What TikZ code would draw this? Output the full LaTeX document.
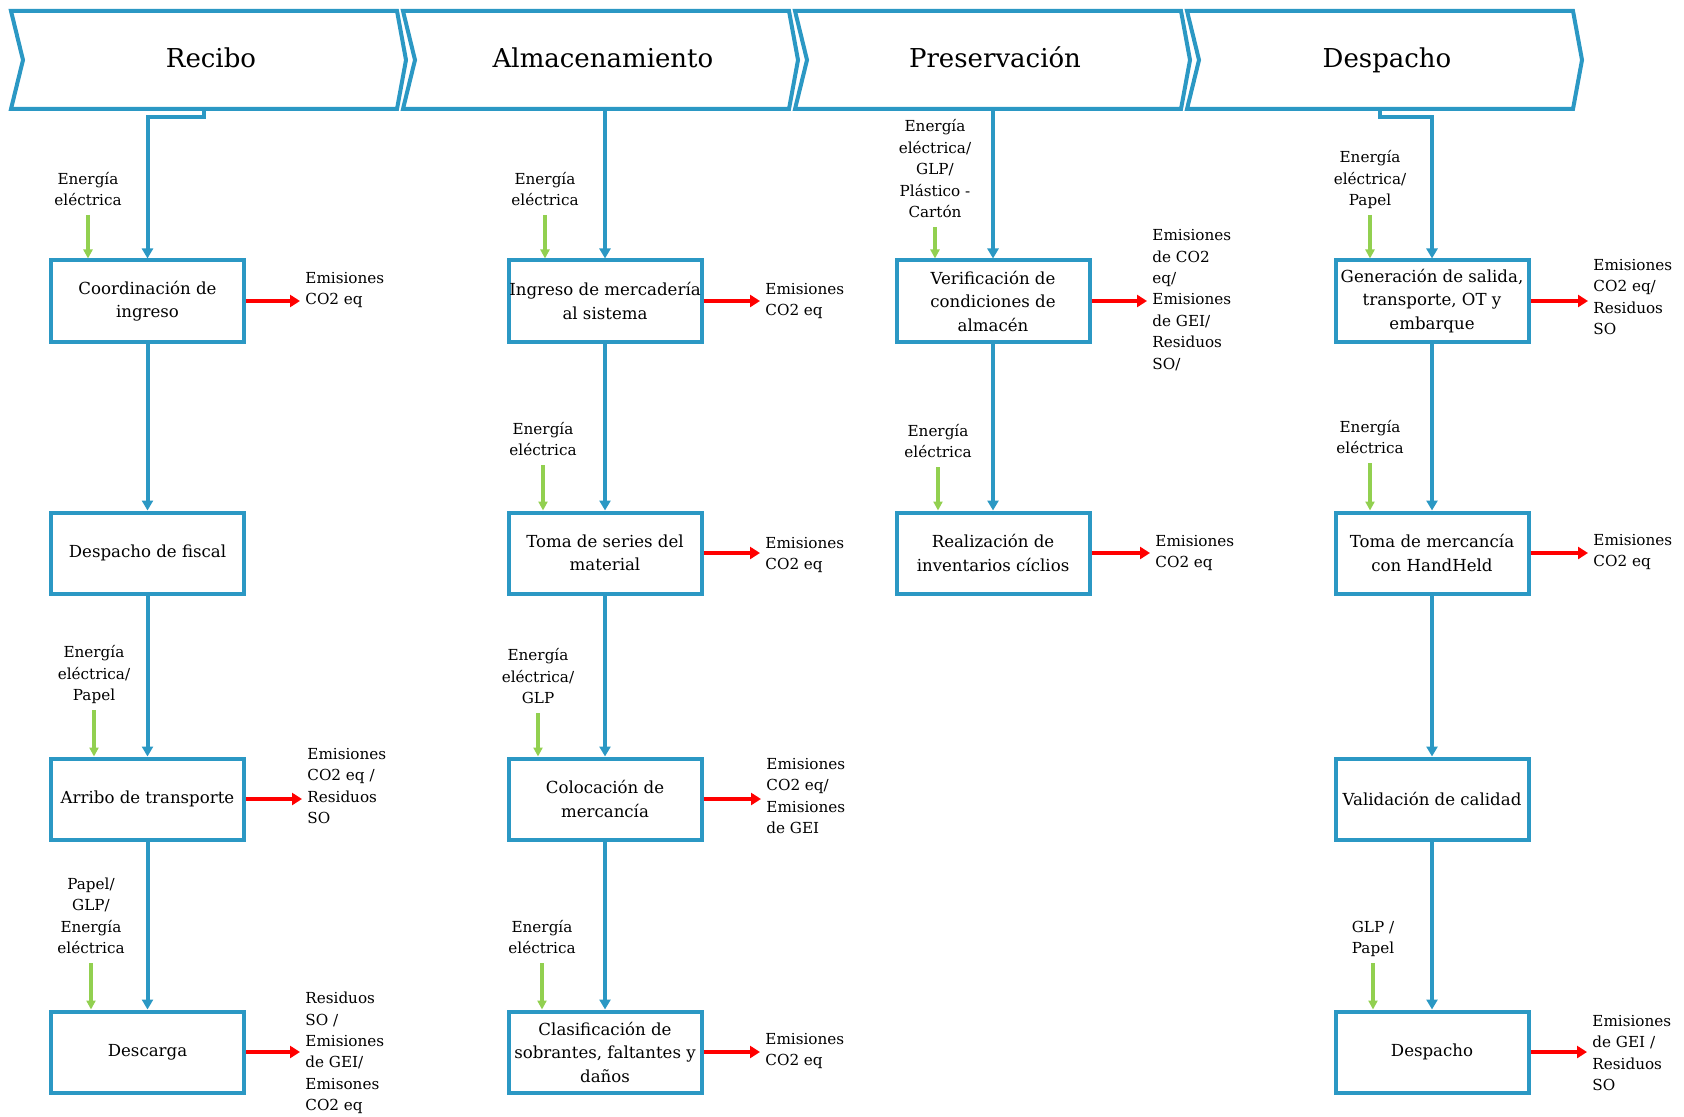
\documentclass[tikz,border=0pt]{standalone}
\usepackage{fontspec}
\setmainfont{DejaVu Serif}
\usetikzlibrary{arrows.meta}
\definecolor{azulflujo}{HTML}{2B98C4}
\definecolor{verdeinsumo}{HTML}{92D050}
\definecolor{rojosalida}{HTML}{FF0000}

\begin{document}
\begin{tikzpicture}
                [x=0.5pt, y=-0.5pt,
                    etapa/.style={draw=azulflujo, line width=2pt, fill=white},
                    proceso/.style={draw=azulflujo, line width=2pt, minimum width=96.5pt,
                        minimum height=40.5pt, inner xsep=0pt, align=center},
                    insumo/.style={align=center, anchor=south, inner xsep=0pt, inner ysep=4.5pt,
                        text depth=0pt, font=\fontsize{7.6}{10.7}\selectfont},
                    residuo/.style={align=left, anchor=west, inner sep=0pt,
                        font=\fontsize{7.6}{10.7}\selectfont},
                    flecha/.style={draw=azulflujo, line width=2pt, -{Triangle[width=5.5pt,length=5pt]}},
                    entra/.style={draw=verdeinsumo, line width=1.8pt, -{Triangle[width=4.5pt,length=4.5pt]}},
                    sale/.style={draw=rojosalida, line width=2pt, shorten >=2.5pt,
                        -{Triangle[width=6pt,length=5pt]}},
                ]
                \tikzstyle{every node}=[font=\fontsize{8.3}{11.75}\selectfont]
                \useasboundingbox (0,0) rectangle (1684,1117);

                \foreach \l/\nm/\txt in {11/recibo/Recibo, 403/almac/Almacenamiento,
                    795/preserv/Preservación, 1187/desp/Despacho}{
                    \draw[etapa] (\l,11) -- ++(386,0) -- ++(9,49) -- ++(-9,49) -- ++(-386,0)
                        -- ++(12,-49) -- cycle;
                    \node[font=\fontsize{13}{15}\selectfont, anchor=base] (\nm) at (\l+200,68) {\txt};
                }
                \coordinate (recibo-s) at (204,109);
                \coordinate (almac-s) at (605,109);
                \coordinate (preserv-s) at (993,109);
                \coordinate (desp-s) at (1380,109);

                \node[proceso] (coord) at (147.5,301) {Coordinación de\\ingreso};
                \node[proceso] (fiscal) at (147.5,553) {Despacho de fiscal};
                \node[proceso] (arribo) at (147.5,799) {Arribo de transporte};
                \node[proceso] (descarga) at (147.5,1052) {Descarga};

                \node[proceso] (ingreso) at (605,301) {Ingreso de mercadería\\al sistema};
                \node[proceso] (series) at (605,553) {Toma de series del\\material};
                \node[proceso] (coloc) at (605,799) {Colocación de\\mercancía};
                \node[proceso] (clasif) at (605,1052) {Clasificación de\\sobrantes, faltantes y\\daños};

                \node[proceso] (verif) at (993,301) {Verificación de\\condiciones de\\almacén};
                \node[proceso] (invent) at (993,553) {Realización de\\inventarios cíclios};

                \node[proceso] (salida) at (1432,301) {Generación de salida,\\transporte, OT y\\embarque};
                \node[proceso] (handheld) at (1432,553) {Toma de mercancía\\con HandHeld};
                \node[proceso] (calidad) at (1432,799) {Validación de calidad};
                \node[proceso] (despacho) at (1432,1052) {Despacho};

                \draw[flecha] (recibo-s) -- ++(0,8) -| (coord);
                \draw[flecha] (coord) -- (fiscal);
                \draw[flecha] (fiscal) -- (arribo);
                \draw[flecha] (arribo) -- (descarga);
                \draw[flecha] (almac-s) -- (ingreso);
                \draw[flecha] (ingreso) -- (series);
                \draw[flecha] (series) -- (coloc);
                \draw[flecha] (coloc) -- (clasif);
                \draw[flecha] (preserv-s) -- (verif);
                \draw[flecha] (verif) -- (invent);
                \draw[flecha] (desp-s) -- ++(0,8) -| (salida);
                \draw[flecha] (salida) -- (handheld);
                \draw[flecha] (handheld) -- (calidad);
                \draw[flecha] (calidad) -- (despacho);

                \node[insumo] (e-coord) at (88,215) {Energía\\eléctrica};
                \node[insumo] (e-arribo) at (94,710) {Energía\\eléctrica/\\Papel};
                \node[insumo] (e-descarga) at (91,963) {Papel/\\GLP/\\Energía\\eléctrica};
                \node[insumo] (e-ingreso) at (545,215) {Energía\\eléctrica};
                \node[insumo] (e-series) at (543,465) {Energía\\eléctrica};
                \node[insumo] (e-coloc) at (538,713) {Energía\\eléctrica/\\GLP};
                \node[insumo] (e-clasif) at (542,963) {Energía\\eléctrica};
                \node[insumo] (e-verif) at (935,227) {Energía\\eléctrica/\\GLP/\\Plástico -\\Cartón};
                \node[insumo] (e-invent) at (938,467) {Energía\\eléctrica};
                \node[insumo] (e-salida) at (1370,215) {Energía\\eléctrica/\\Papel};
                \node[insumo] (e-handheld) at (1370,463) {Energía\\eléctrica};
                \node[insumo] (e-despacho) at (1373,963) {GLP /\\Papel};

                \draw[entra] (e-coord) -- (e-coord |- coord.north);
                \draw[entra] (e-arribo) -- (e-arribo |- arribo.north);
                \draw[entra] (e-descarga) -- (e-descarga |- descarga.north);
                \draw[entra] (e-ingreso) -- (e-ingreso |- ingreso.north);
                \draw[entra] (e-series) -- (e-series |- series.north);
                \draw[entra] (e-coloc) -- (e-coloc |- coloc.north);
                \draw[entra] (e-clasif) -- (e-clasif |- clasif.north);
                \draw[entra] (e-verif) -- (e-verif |- verif.north);
                \draw[entra] (e-invent) -- (e-invent |- invent.north);
                \draw[entra] (e-salida) -- (e-salida |- salida.north);
                \draw[entra] (e-handheld) -- (e-handheld |- handheld.north);
                \draw[entra] (e-despacho) -- (e-despacho |- despacho.north);

                \node[residuo] (s-coord) at (305,290) {Emisiones\\CO2 eq};
                \node[residuo] (s-arribo) at (307,786) {Emisiones\\CO2 eq /\\Residuos\\SO};
                \node[residuo] (s-descarga) at (305,1053) {Residuos\\SO /\\Emisiones\\de GEI/\\Emisones\\CO2 eq};
                \node[residuo] (s-ingreso) at (765,301) {Emisiones\\CO2 eq};
                \node[residuo] (s-series) at (765,555) {Emisiones\\CO2 eq};
                \node[residuo] (s-coloc) at (766,796) {Emisiones\\CO2 eq/\\Emisiones\\de GEI};
                \node[residuo] (s-clasif) at (765,1051) {Emisiones\\CO2 eq};
                \node[residuo] (s-verif) at (1152,300) {Emisiones\\de CO2\\eq/\\Emisiones\\de GEI/\\Residuos\\SO/};
                \node[residuo] (s-invent) at (1155,553) {Emisiones\\CO2 eq};
                \node[residuo] (s-salida) at (1593,297) {Emisiones\\CO2 eq/\\Residuos\\SO};
                \node[residuo] (s-handheld) at (1593,552) {Emisiones\\CO2 eq};
                \node[residuo] (s-despacho) at (1592,1053) {Emisiones\\de GEI /\\Residuos\\SO};

                \draw[sale] (coord) -- (coord -| s-coord.west);
                \draw[sale] (arribo) -- (arribo -| s-arribo.west);
                \draw[sale] (descarga) -- (descarga -| s-descarga.west);
                \draw[sale] (ingreso) -- (ingreso -| s-ingreso.west);
                \draw[sale] (series) -- (series -| s-series.west);
                \draw[sale] (coloc) -- (coloc -| s-coloc.west);
                \draw[sale] (clasif) -- (clasif -| s-clasif.west);
                \draw[sale] (verif) -- (verif -| s-verif.west);
                \draw[sale] (invent) -- (invent -| s-invent.west);
                \draw[sale] (salida) -- (salida -| s-salida.west);
                \draw[sale] (handheld) -- (handheld -| s-handheld.west);
                \draw[sale] (despacho) -- (despacho -| s-despacho.west);
            \end{tikzpicture}
\end{document}
